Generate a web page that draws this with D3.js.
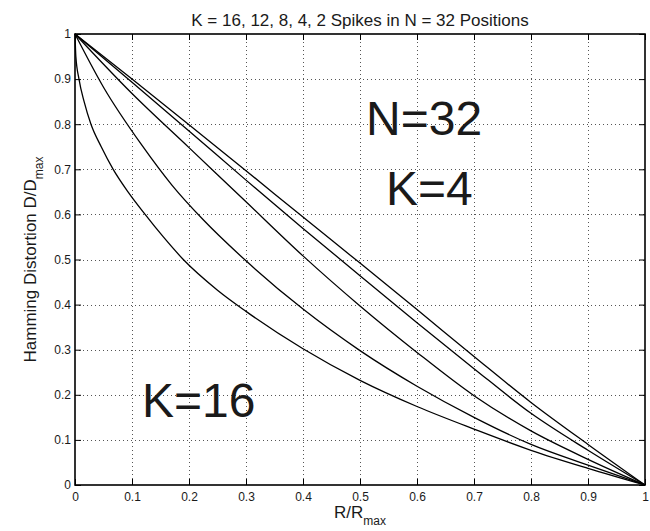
<!DOCTYPE html>
<html>
<head>
<meta charset="utf-8">
<script src="https://cdn.jsdelivr.net/npm/d3@7"></script>
<style>
  body { margin: 0; background: #fff; }
  text { font-family: "Liberation Sans", Arial, Helvetica, sans-serif; fill: #1a1a1a; }
</style>
</head>
<body>
<svg id="chart" width="650" height="531"></svg>
<script>
// tick values and labels (both axes use the same ones)
const tickValues = [0, 0.1, 0.2, 0.3, 0.4, 0.5, 0.6, 0.7, 0.8, 0.9, 1];
const tickLabels = ["0", "0.1", "0.2", "0.3", "0.4", "0.5", "0.6", "0.7", "0.8", "0.9", "1"];

// curves: [R/Rmax, D/Dmax]
const curveK16 = [[0, 1], [0.0015, 0.95], [0.007, 0.9], [0.016, 0.85], [0.028, 0.8], [0.046, 0.75],
  [0.067, 0.7], [0.093, 0.65], [0.123, 0.6], [0.155, 0.55], [0.19, 0.5], [0.25, 0.432], [0.3, 0.385],
  [0.4, 0.302], [0.5, 0.232], [0.6, 0.174], [0.7, 0.124], [0.8, 0.077], [0.9, 0.037], [1, 0]];
const curveK12 = [[0, 1], [0.05, 0.882], [0.117, 0.754], [0.17, 0.665], [0.225, 0.588], [0.3, 0.497],
  [0.4, 0.39], [0.5, 0.298], [0.6, 0.219], [0.7, 0.15], [0.8, 0.09], [0.9, 0.044], [1, 0]];
const curveK8 = [[0, 1], [0.1, 0.868], [0.2, 0.748], [0.3, 0.628], [0.4, 0.508], [0.5, 0.397],
  [0.6, 0.294], [0.7, 0.198], [0.8, 0.12], [0.9, 0.057], [1, 0]];
const curveK4 = [[0, 1], [0.1, 0.893], [0.2, 0.785], [0.3, 0.676], [0.4, 0.569], [0.5, 0.464],
  [0.6, 0.36], [0.7, 0.258], [0.8, 0.159], [0.9, 0.077], [1, 0]];
const curveK2 = [[0, 1], [0.1, 0.9], [0.2, 0.799], [0.3, 0.697], [0.4, 0.594], [0.5, 0.492],
  [0.6, 0.389], [0.7, 0.285], [0.8, 0.183], [0.9, 0.09], [1, 0]];

const curves = [curveK16, curveK12, curveK8, curveK4, curveK2];

const plotLeft = 75, plotRight = 645, plotTop = 34, plotBottom = 485;

const svg = d3.select("#chart");

const x = d3.scaleLinear().domain([0, 1]).range([plotLeft, plotRight]);
const y = d3.scaleLinear().domain([0, 1]).range([plotBottom, plotTop]);

// dotted grid
const grid = svg.append("g")
    .attr("stroke", "#555")
    .attr("stroke-width", 1)
    .attr("stroke-dasharray", "1,3")
    .attr("shape-rendering", "crispEdges");

grid.selectAll("line.v")
  .data(tickValues.slice(1, -1))
  .join("line")
    .attr("class", "v")
    .attr("x1", d => Math.round(x(d)) + 0.5)
    .attr("x2", d => Math.round(x(d)) + 0.5)
    .attr("y1", plotTop)
    .attr("y2", plotBottom);

grid.selectAll("line.h")
  .data(tickValues.slice(1, -1))
  .join("line")
    .attr("class", "h")
    .attr("y1", d => Math.round(y(d)) + 0.5)
    .attr("y2", d => Math.round(y(d)) + 0.5)
    .attr("x1", plotLeft)
    .attr("x2", plotRight);

// axes with inward ticks on all four sides
function styleAxis(g) {
  g.attr("font-family", null).attr("font-size", null);
  g.select(".domain").remove();
  g.selectAll(".tick line").attr("stroke", "#000").attr("stroke-width", 1);
  g.selectAll(".tick text").attr("font-size", 12).attr("fill", "#1a1a1a");
}

svg.append("g")
    .attr("transform", `translate(0,${plotBottom})`)
    .call(d3.axisBottom(x).tickValues(tickValues).tickFormat((d, i) => tickLabels[i])
      .tickSizeInner(-6).tickSizeOuter(0).tickPadding(7))
    .call(styleAxis);

svg.append("g")
    .attr("transform", `translate(${plotLeft},0)`)
    .call(d3.axisLeft(y).tickValues(tickValues).tickFormat((d, i) => tickLabels[i])
      .tickSizeInner(-6).tickSizeOuter(0).tickPadding(4))
    .call(styleAxis);

svg.append("g")
    .attr("transform", `translate(0,${plotTop})`)
    .call(d3.axisTop(x).tickValues(tickValues).tickFormat("").tickSizeInner(-6).tickSizeOuter(0))
    .call(styleAxis);

svg.append("g")
    .attr("transform", `translate(${plotRight},0)`)
    .call(d3.axisRight(y).tickValues(tickValues).tickFormat("").tickSizeInner(-6).tickSizeOuter(0))
    .call(styleAxis);

// box
svg.append("rect")
    .attr("x", plotLeft)
    .attr("y", plotTop)
    .attr("width", plotRight - plotLeft)
    .attr("height", plotBottom - plotTop)
    .attr("fill", "none")
    .attr("stroke", "#000")
    .attr("stroke-width", 1.6);

// curves
const line = d3.line()
    .x(d => x(d[0]))
    .y(d => y(d[1]))
    .curve(d3.curveMonotoneX);

svg.append("g")
    .attr("fill", "none")
    .attr("stroke", "#000")
    .attr("stroke-width", 1.3)
  .selectAll("path")
  .data(curves)
  .join("path")
    .attr("d", line);

// title
svg.append("text")
    .attr("x", (plotLeft + plotRight) / 2)
    .attr("y", 26)
    .attr("text-anchor", "middle")
    .attr("font-size", 17)
    .text("K = 16, 12, 8, 4, 2 Spikes in N = 32 Positions");

// x label
const xl = svg.append("text")
    .attr("x", (plotLeft + plotRight) / 2)
    .attr("y", 518)
    .attr("text-anchor", "middle")
    .attr("font-size", 17);
xl.append("tspan").text("R/R");
xl.append("tspan").attr("font-size", 12).attr("dy", 7).text("max");

// y label
const yl = svg.append("text")
    .attr("transform", `translate(36,${(plotTop + plotBottom) / 2}) rotate(-90)`)
    .attr("text-anchor", "middle")
    .attr("font-size", 17);
yl.append("tspan").text("Hamming Distortion D/D");
yl.append("tspan").attr("font-size", 12).attr("dy", 7).text("max");

// big annotations
const notes = svg.append("g").attr("font-size", 48);
notes.append("text").attr("x", 366).attr("y", 135).text("N=32");
notes.append("text").attr("x", 386).attr("y", 205).text("K=4");
notes.append("text").attr("x", 142).attr("y", 417).text("K=16");
</script>
</body>
</html>
